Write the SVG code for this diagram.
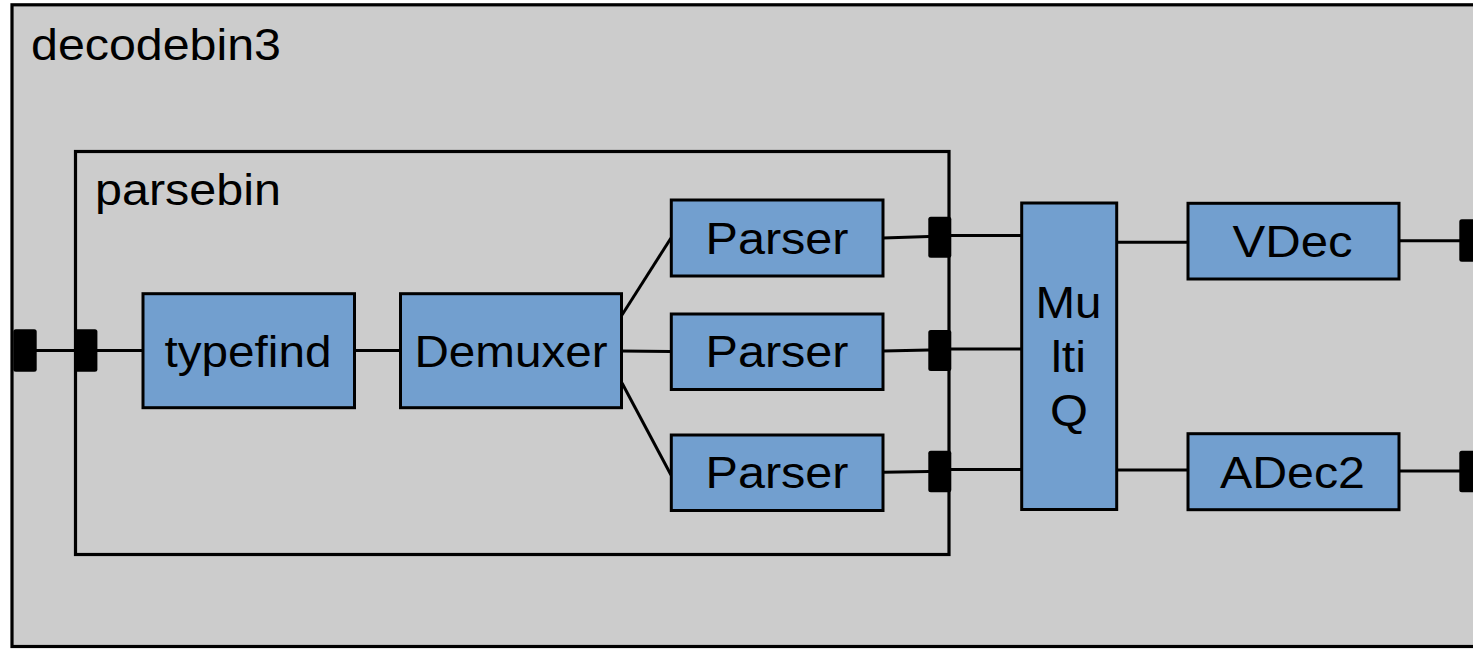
<svg xmlns="http://www.w3.org/2000/svg" width="1473" height="649" viewBox="0 0 1473 649">
  <style>
    .bin { fill: #cccccc; stroke: #000; stroke-width: 3.2; }
    .inner { fill: none; stroke: #000; stroke-width: 3.2; }
    .elem { fill: #729fcf; stroke: #000; stroke-width: 3; }
    .pad { fill: #000; }
    .link { fill: none; stroke: #000; stroke-width: 3; }
    .lbl { font-family: "Liberation Sans", Arial, sans-serif; font-size: 45px; fill: #000; }
    .c { text-anchor: middle; }
  </style>

  <!-- decodebin3 container -->
  <g id="decodebin3">
    <rect class="bin" x="12" y="4.8" width="1500" height="641.7"/>
    <text class="lbl" x="31" y="60" textLength="250" lengthAdjust="spacingAndGlyphs">decodebin3</text>
  </g>

  <!-- parsebin container -->
  <g id="parsebin">
    <rect class="inner" x="75.5" y="151.5" width="873.5" height="403"/>
    <text class="lbl" x="95" y="205" textLength="186" lengthAdjust="spacingAndGlyphs">parsebin</text>
  </g>

  <!-- connectors -->
  <g id="links">
    <line class="link" x1="36" y1="350.5" x2="143" y2="350.5"/>
    <line class="link" x1="354.5" y1="350.5" x2="400.5" y2="350.5"/>
    <line class="link" x1="622" y1="315" x2="671" y2="238"/>
    <line class="link" x1="621" y1="351" x2="671" y2="351.5"/>
    <line class="link" x1="622" y1="383" x2="671" y2="475"/>
    <line class="link" x1="883" y1="238" x2="929" y2="236.5"/>
    <line class="link" x1="883" y1="351" x2="929" y2="350"/>
    <line class="link" x1="883" y1="472.3" x2="929" y2="471.5"/>
    <line class="link" x1="951" y1="235.5" x2="1021" y2="235.5"/>
    <line class="link" x1="951" y1="349" x2="1021" y2="349"/>
    <line class="link" x1="951" y1="469.5" x2="1021" y2="469.5"/>
    <line class="link" x1="1117" y1="242.3" x2="1188" y2="242.3"/>
    <line class="link" x1="1117" y1="470" x2="1188" y2="470"/>
    <line class="link" x1="1399" y1="240.7" x2="1460" y2="240.7"/>
    <line class="link" x1="1399" y1="471" x2="1460" y2="471"/>
  </g>

  <!-- pads -->
  <g id="pads">
    <rect class="pad" x="13.3" y="329.3" width="23.4" height="42.4" rx="2.5"/>
    <rect class="pad" x="74" y="329.3" width="23.4" height="42.4" rx="2.5"/>
    <rect class="pad" x="928.3" y="216.7" width="23" height="41" rx="2.5"/>
    <rect class="pad" x="928.3" y="330" width="23" height="41" rx="2.5"/>
    <rect class="pad" x="928.3" y="450.7" width="23" height="41.6" rx="2.5"/>
    <rect class="pad" x="1459.3" y="219.3" width="30" height="42.4" rx="2.5"/>
    <rect class="pad" x="1459.3" y="450.7" width="30" height="41.6" rx="2.5"/>
  </g>

  <g id="typefind">
    <rect class="elem" x="143" y="293.7" width="211.5" height="114"/>
    <text class="lbl c" x="248" y="367" textLength="167" lengthAdjust="spacingAndGlyphs">typefind</text>
  </g>

  <g id="demuxer">
    <rect class="elem" x="400.5" y="293.7" width="221" height="114"/>
    <text class="lbl c" x="511" y="367" textLength="193" lengthAdjust="spacingAndGlyphs">Demuxer</text>
  </g>

  <g id="parser1">
    <rect class="elem" x="671.3" y="200" width="211.7" height="76"/>
    <text class="lbl c" x="777" y="254" textLength="143" lengthAdjust="spacingAndGlyphs">Parser</text>
  </g>

  <g id="parser2">
    <rect class="elem" x="671.3" y="314" width="211.7" height="75.5"/>
    <text class="lbl c" x="777" y="367" textLength="143" lengthAdjust="spacingAndGlyphs">Parser</text>
  </g>

  <g id="parser3">
    <rect class="elem" x="671.3" y="435" width="211.7" height="75.5"/>
    <text class="lbl c" x="777" y="488" textLength="143" lengthAdjust="spacingAndGlyphs">Parser</text>
  </g>

  <g id="multiqueue">
    <rect class="elem" x="1021.7" y="203" width="95" height="306.5"/>
    <text class="lbl c" x="1068.5" y="318" textLength="66" lengthAdjust="spacingAndGlyphs">Mu</text>
    <text class="lbl c" x="1068.5" y="372" textLength="35" lengthAdjust="spacingAndGlyphs">lti</text>
    <text class="lbl c" x="1069" y="426" textLength="38" lengthAdjust="spacingAndGlyphs">Q</text>
  </g>

  <g id="vdec">
    <rect class="elem" x="1188" y="203.3" width="211" height="75.7"/>
    <text class="lbl c" x="1292.5" y="257" textLength="120" lengthAdjust="spacingAndGlyphs">VDec</text>
  </g>

  <g id="adec2">
    <rect class="elem" x="1188" y="433.7" width="211" height="76"/>
    <text class="lbl c" x="1292.5" y="488" textLength="145" lengthAdjust="spacingAndGlyphs">ADec2</text>
  </g>
</svg>
